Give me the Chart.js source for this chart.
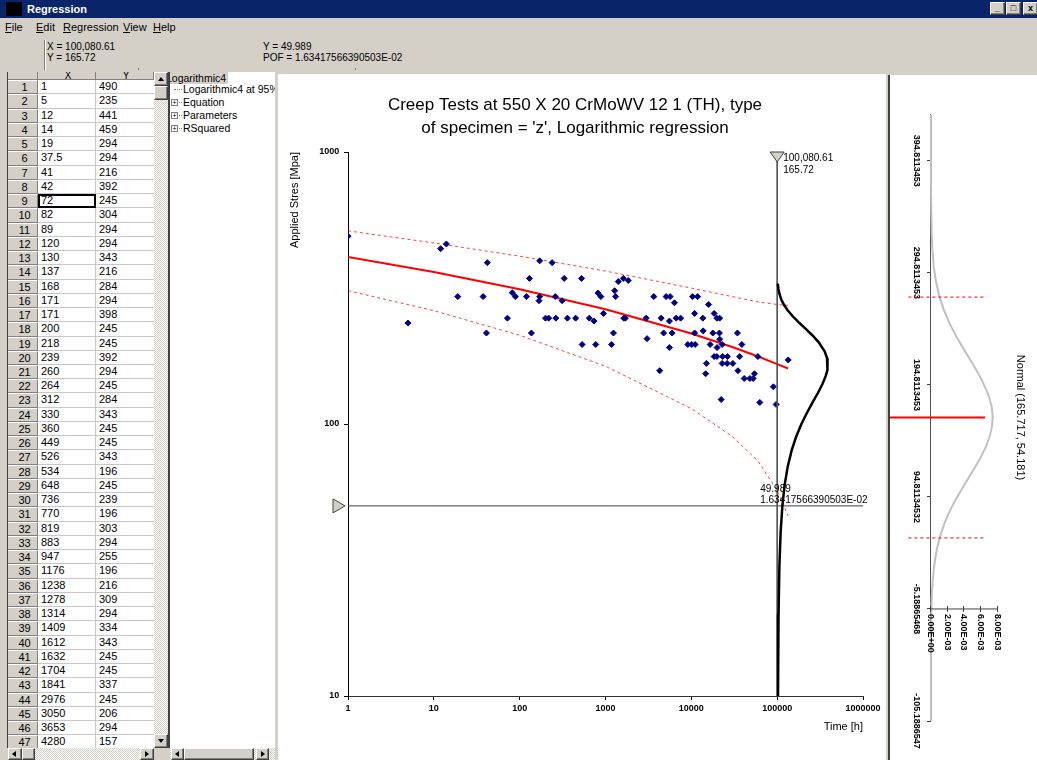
<!DOCTYPE html>
<html>
<head>
<meta charset="utf-8">
<title>Regression</title>
<script src="https://cdn.jsdelivr.net/npm/chart.js@4.4.1/dist/chart.umd.min.js"></script>
<style>
  * { box-sizing: border-box; }
  body {
    margin: 0; width: 1037px; height: 760px; overflow: hidden; position: relative;
    background: #d4d0c8; color: #000;
    font-family: Arial, "Liberation Sans", sans-serif; font-size: 11px;
  }
  .abs { position: absolute; }
  .raised { background: #d4d0c8; border: 1px solid; border-color: #fff #404040 #404040 #fff; box-shadow: inset -1px -1px #808080; }
  .track { background: repeating-conic-gradient(#fff 0 25%, #d4d0c8 0 50%) 0 0 / 2px 2px; }
  .tri { position: absolute; width: 0; height: 0; border: 3px solid transparent; }
  .tri.up { border-top: 0; border-bottom: 4px solid #000; left: 3px; top: 4px; }
  .tri.down { border-bottom: 0; border-top: 4px solid #000; left: 3px; top: 4px; }
  .tri.left { border-left: 0; border-right: 4px solid #000; left: 3px; top: 2px; }
  .tri.right { border-right: 0; border-left: 4px solid #000; left: 4px; top: 2px; }

  #titlebar { left: 0; top: 0; width: 1037px; height: 18px; background: #0a246a; color: #fff; font-weight: bold; line-height: 18px; }
  #titlebar .icon { left: 6px; top: 2px; width: 16px; height: 14px; background: #000; }
  .winbtn { top: 2px; width: 15px; height: 13px; font-size: 9px; line-height: 10px; text-align: center; color: #000; font-weight: bold; }
  #menu { left: 0; top: 18px; width: 1037px; height: 18px; line-height: 19px; }
  #menu span { position: absolute; top: 0; }
  .readout { font-size: 10px; line-height: 11px; white-space: nowrap; }

  #grid { left: 7px; top: 72px; width: 161px; height: 676px; background: #fff; overflow: hidden; border-left: 1px solid #404040; }
  .cell { position: absolute; height: 14.24px; line-height: 13px; padding-left: 3px; white-space: nowrap; overflow: hidden; }
  .rh { left: 0; width: 30px; background: #d4d0c8; border-right: 1px solid #808080; border-bottom: 1px solid #808080; border-top: 1px solid #fff; text-align: center; padding-left: 4px; }
  .cx { left: 30px; width: 58px; border-right: 1px solid #c8c8c8; border-bottom: 1px solid #c8c8c8; }
  .cy { left: 88px; width: 58px; border-bottom: 1px solid #c8c8c8; }
  .hdr { top: 0; height: 8px; line-height: 8px; font-size: 10px; background: #d4d0c8; border-right: 1px solid #808080; border-bottom: 1px solid #808080; text-align: center; overflow: hidden; }

  #tree { left: 168px; top: 72px; width: 107px; height: 676px; background: #fff; border-left: 2px solid #404040; overflow: hidden; font-size: 10.5px; }
  #tree div { position: absolute; white-space: nowrap; line-height: 12px; }
  .dots { position: absolute; border-top: 1px dotted #808080; height: 0; }
  .plus { position: absolute; width: 7px; height: 7px; border: 1px solid #808080; font-size: 7px; line-height: 5px; text-align: center; }

  #mainPanel { left: 278px; top: 74px; width: 608px; height: 686px; background: #fff; }
  #distPanel { left: 888px; top: 75px; width: 149px; height: 685px; background: #fff; border-left: 2px solid #404040; }
  #distWrap { position: absolute; left: 147px; top: 0; width: 685px; height: 147px; transform-origin: 0 0; transform: rotate(90deg); }
</style>
</head>
<body>

<div id="titlebar" class="abs">
  <div class="abs icon"></div>
  <div class="abs" style="left:27px;">Regression</div>
  <div class="abs raised winbtn" style="left:990px;">_</div>
  <div class="abs raised winbtn" style="left:1006px;">&#9633;</div>
  <div class="abs raised winbtn" style="left:1023px;">x</div>
</div>

<div id="menu" class="abs">
  <span style="left:5px;"><u>F</u>ile</span>
  <span style="left:36px;"><u>E</u>dit</span>
  <span style="left:63px;"><u>R</u>egression</span>
  <span style="left:123px;"><u>V</u>iew</span>
  <span style="left:153px;"><u>H</u>elp</span>
</div>

<div class="abs" style="left:44px; top:40px; width:2px; height:30px; border-left:1px solid #808080; border-right:1px solid #fff;"></div>
<div class="abs readout" style="left:47px; top:41px;" id="readX"></div>
<div class="abs readout" style="left:47px; top:52px;" id="readY"></div>
<div class="abs readout" style="left:263px; top:41px;" id="readPofY"></div>
<div class="abs readout" style="left:263px; top:52px;" id="readPof"></div>
<div class="abs" style="left:138px; top:68px; width:1px; height:2px; background:#808080;"></div>
<div class="abs" style="left:355px; top:68px; width:1px; height:2px; background:#808080;"></div>

<div id="grid" class="abs"></div>
<div class="abs track" style="left:154px; top:72px; width:14px; height:676px;"></div>
<div class="abs raised" style="left:154px; top:72px; width:14px; height:14px;"><div class="tri up"></div></div>
<div class="abs raised" style="left:154px; top:86px; width:14px; height:14px;"></div>
<div class="abs raised" style="left:154px; top:734px; width:14px; height:14px;"><div class="tri down"></div></div>
<div class="abs track" style="left:8px; top:748px; width:146px; height:12px;"></div>
<div class="abs raised" style="left:8px; top:748px; width:14px; height:12px;"><div class="tri left"></div></div>
<div class="abs raised" style="left:22px; top:748px; width:13px; height:12px;"></div>
<div class="abs raised" style="left:140px; top:748px; width:14px; height:12px;"><div class="tri right"></div></div>

<div id="tree" class="abs"></div>
<div class="abs track" style="left:170px; top:748px; width:105px; height:12px;"></div>
<div class="abs raised" style="left:171px; top:748px; width:13px; height:12px;"><div class="tri left"></div></div>
<div class="abs raised" style="left:184px; top:748px; width:70px; height:12px;"></div>
<div class="abs raised" style="left:256px; top:748px; width:13px; height:12px;"><div class="tri right"></div></div>

<div id="mainPanel" class="abs"><canvas id="creepChart" width="608" height="686"></canvas></div>
<div id="distPanel" class="abs"><div id="distWrap"><canvas id="distChart" width="685" height="147"></canvas></div></div>

<script>
// creep rupture tests: time to rupture [h] and applied stress [MPa]
const creepTime = [
  1, 5, 12, 14, 19, 37.5, 41, 42, 72, 82, 89, 120, 130, 137, 168, 171, 171, 200, 218, 239,
  260, 264, 312, 330, 360, 449, 526, 534, 648, 736, 770, 819, 883, 947, 1176, 1238, 1278, 1314,
  1409, 1612, 1632, 1704, 1841, 2976, 3050, 3653, 4280,
  4450, 4755, 5085, 5555, 5555, 5660, 5970, 6360, 6650, 7500, 9100, 10080, 10350, 10920, 10920,
  11070, 11840, 13620, 13730, 14680, 14960, 15900, 16560, 17800, 18440, 18440, 19830, 19830,
  19950, 21250, 21370, 21370, 22250, 22850, 22850, 23170, 26100, 26350, 30460, 34440, 34900,
  36560, 38800, 41250, 48070, 52500, 54380, 59600, 62800, 90300, 97300, 134400
];
const creepStress = [
  490, 235, 441, 459, 294, 294, 216, 392, 245, 304, 294, 294, 343, 216, 284, 294, 398, 245, 245, 392,
  294, 245, 284, 343, 245, 245, 343, 196, 245, 239, 196, 303, 294, 255, 196, 216, 309, 294,
  334, 343, 245, 245, 337, 245, 206, 294, 157,
  245, 216, 294, 239, 191, 294, 216, 279, 245, 245, 196, 196, 294, 255, 216,
  196, 294, 245, 220, 153, 167, 275, 196, 216, 255, 177, 245, 177,
  191, 216, 245, 205, 123, 196, 167, 177, 167, 177, 167, 216, 157,
  177, 196, 147, 147, 147, 153, 177, 120, 137, 118, 172
];

// logarithmic regression and its 95% prediction band
const bandTime = [1, 10, 100, 1000, 10000, 30000, 60000, 100000, 134000];
const fitStress = [411, 362, 313, 264, 215, 192, 177, 166, 160];
const upperStress = [513, 463, 414, 365, 316, 294, 281, 275, 273];
const lowerStress = [309, 261, 212, 163, 114, 90, 73, 57, 46];

// cursor readouts
const cursorTime = 100080.61;
const cursorStress = 165.72;
const pofStress = 49.989;
const pofValue = 1.63417566390503E-02;

// stress distribution at the cursor time
const normalMean = 165.717;
const normalSd = 54.181;
const pdfStress = [
  436, 400, 375, 350, 328, 315, 300, 287, 275, 262, 250, 237, 225, 212, 200, 185, 175, 166, 158, 150,
  140, 130, 120, 110, 100, 90, 80, 70, 60, 50, 40, 30, 20, 10, 0, -10, -40, -70, -105
];
const pdfDensity = [
  0, 0.0000006, 0.0000042, 0.0000227, 0.000083, 0.000165, 0.000342, 0.000602, 0.000963, 0.001518,
  0.002196, 0.003099, 0.004046, 0.005113, 0.006027, 0.006911, 0.007256, 0.007363, 0.007289, 0.007060,
  0.006578, 0.005925, 0.005158, 0.004340, 0.003528, 0.002773, 0.002107, 0.001546, 0.001097, 0.000753,
  0.000499, 0.000320, 0.000198, 0.000118, 0.0000685, 0.0000383, 0.0000054, 0.0000006, 0
];
const boundStress = [58.2, 273.2];
const refLineTop = 0.00645;
const meanLineBottom = -0.0049;
const boundLineBottom = -0.0027;

// tick values
const timeTicks = [1, 10, 100, 1000, 10000, 100000, 1000000];
const stressTicks = [10, 100, 1000];
const distStressTicks = [-105.1886547, -5.18865468, 94.81134532, 194.8113453, 294.8113453, 394.8113453];
const densityTicks = [0, 0.002, 0.004, 0.006, 0.008];

const chartTitle = ["Creep Tests at 550 X 20 CrMoWV 12 1 (TH), type", "of specimen = 'z', Logarithmic regression"];

const fontFamily = 'Arial, "Liberation Sans", sans-serif';
Chart.defaults.font.family = fontFamily;
Chart.defaults.color = '#000';

function fmtExp(v, digits) {
  const [m, e] = v.toExponential(digits).split('e');
  const n = Number(e);
  return m + 'E' + (n < 0 ? '-' : '+') + String(Math.abs(n)).padStart(2, '0');
}

const cursorTimeText = cursorTime.toLocaleString('en-US', { minimumFractionDigits: 2, maximumFractionDigits: 2 });

document.getElementById('readX').textContent = 'X = ' + cursorTimeText;
document.getElementById('readY').textContent = 'Y = ' + cursorStress;
document.getElementById('readPofY').textContent = 'Y = ' + pofStress;
document.getElementById('readPof').textContent = 'POF = ' + fmtExp(pofValue, 14);

function buildGrid() {
  const rowH = 14.24;
  let html = '<div class="cell hdr" style="left:0;width:30px;"></div>' +
             '<div class="cell hdr" style="left:30px;width:58px;">X</div>' +
             '<div class="cell hdr" style="left:88px;width:58px;">Y</div>';
  for (let i = 0; i < 47; i++) {
    const top = (8.2 + i * rowH).toFixed(2);
    const focus = i === 8 ? 'outline:2px solid #000;outline-offset:-2px;' : '';
    html += `<div class="cell rh" style="top:${top}px">${i + 1}</div>` +
            `<div class="cell cx" style="top:${top}px;${focus}">${creepTime[i]}</div>` +
            `<div class="cell cy" style="top:${top}px">${creepStress[i]}</div>`;
  }
  document.getElementById('grid').innerHTML = html;
}

function buildTree() {
  document.getElementById('tree').innerHTML =
    '<div style="left:-6px;top:0px;background:#d4d0c8;padding:0 2px;">Logarithmic4</div>' +
    '<span class="dots" style="left:4px;top:17px;width:8px;"></span>' +
    '<div style="left:13px;top:11px;">Logarithmic4 at 95%</div>' +
    '<span class="plus" style="left:1px;top:27px;">+</span><span class="dots" style="left:9px;top:30px;width:3px;"></span><div style="left:13px;top:24px;">Equation</div>' +
    '<span class="plus" style="left:1px;top:40px;">+</span><span class="dots" style="left:9px;top:43px;width:3px;"></span><div style="left:13px;top:37px;">Parameters</div>' +
    '<span class="plus" style="left:1px;top:53px;">+</span><span class="dots" style="left:9px;top:56px;width:3px;"></span><div style="left:13px;top:50px;">RSquared</div>';
}

buildGrid();
buildTree();

// handles and readouts of the two cursors
const cursorMarks = {
  id: 'cursorMarks',
  afterDatasetsDraw(chart) {
    const { ctx, chartArea, scales: { x, y } } = chart;
    const cx = x.getPixelForValue(cursorTime);
    const py = y.getPixelForValue(pofStress);
    ctx.save();
    ctx.fillStyle = '#d4d0c8';
    ctx.strokeStyle = '#404040';
    ctx.lineWidth = 1;
    ctx.beginPath();
    ctx.moveTo(cx - 7, chartArea.top);
    ctx.lineTo(cx + 7, chartArea.top);
    ctx.lineTo(cx, chartArea.top + 10);
    ctx.closePath();
    ctx.fill();
    ctx.stroke();
    ctx.beginPath();
    ctx.moveTo(chartArea.left - 15, py - 7);
    ctx.lineTo(chartArea.left - 15, py + 7);
    ctx.lineTo(chartArea.left - 3, py);
    ctx.closePath();
    ctx.fill();
    ctx.stroke();

    ctx.fillStyle = '#000';
    ctx.font = '10px ' + fontFamily;
    ctx.textBaseline = 'middle';
    ctx.textAlign = 'left';
    ctx.fillText(cursorTimeText, cx + 6, chartArea.top + 6);
    ctx.fillText(String(cursorStress), cx + 6, chartArea.top + 18);
    ctx.fillText(String(pofStress), cx - 17, py - 17);
    ctx.fillText(fmtExp(pofValue, 14), cx - 17, py - 6);
    ctx.restore();
  }
};

// density tick marks and labels, standing on the -5.19 stress line
const densityAxis = {
  id: 'densityAxis',
  afterDatasetsDraw(chart) {
    const { ctx, scales: { x, y } } = chart;
    const ax = x.getPixelForValue(distStressTicks[1]);
    ctx.save();
    ctx.strokeStyle = '#404040';
    ctx.lineWidth = 1;
    ctx.fillStyle = '#000';
    ctx.font = 'bold 9px ' + fontFamily;
    ctx.textAlign = 'left';
    ctx.textBaseline = 'middle';
    densityTicks.forEach(v => {
      const py = Math.round(y.getPixelForValue(v)) + 0.5;
      ctx.beginPath();
      ctx.moveTo(ax - 3, py);
      ctx.lineTo(ax + 3, py);
      ctx.stroke();
      ctx.fillText(fmtExp(v, 2), ax + 5, py);
    });
    ctx.restore();
  }
};

const toPoints = (xs, ys) => xs.map((v, i) => ({ x: v, y: ys[i] }));
const lineSet = (label, data, color, width, extra) =>
  Object.assign({ label, data, showLine: true, borderColor: color, borderWidth: width, pointRadius: 0, fill: false }, extra);

// density axis placed so that zero sits on the cursor time
const pdfAxisMax = 0.0125;
const cursorFrac = Math.log10(cursorTime) / Math.log10(timeTicks[timeTicks.length - 1]);
const pdfAxisMin = -cursorFrac * pdfAxisMax / (1 - cursorFrac);

const mainPdf = pdfStress.map((s, i) => ({ x: pdfDensity[i], y: s })).filter(p => p.y >= 10 && p.y <= 330);

const tickFont = { size: 9, weight: 'bold' };

new Chart(document.getElementById('creepChart'), {
  type: 'scatter',
  data: {
    datasets: [
      lineSet('stress distribution', mainPdf, '#000', 2.5, { xAxisID: 'xPdf' }),
      lineSet('cursor time', [{ x: cursorTime, y: stressTicks[2] }, { x: cursorTime, y: stressTicks[0] }], '#555', 1),
      {
        label: 'creep tests', data: toPoints(creepTime, creepStress),
        pointStyle: 'rectRot', pointRadius: 3, backgroundColor: '#000080', borderColor: '#000080', borderWidth: 1
      },
      lineSet('Logarithmic4', toPoints(bandTime, fitStress), '#ff0000', 2),
      lineSet('upper 95%', toPoints(bandTime, upperStress), 'rgba(255,0,0,0.75)', 1, { borderDash: [3, 3] }),
      lineSet('lower 95%', toPoints(bandTime, lowerStress), 'rgba(255,0,0,0.75)', 1, { borderDash: [3, 3] }),
      lineSet('pof stress', [{ x: timeTicks[0], y: pofStress }, { x: timeTicks[6], y: pofStress }], '#404040', 1)
    ]
  },
  options: {
    responsive: false,
    animation: false,
    events: [],
    layout: { padding: { left: 9, right: 23, top: 0, bottom: 0 } },
    plugins: {
      legend: { display: false },
      tooltip: { enabled: false },
      title: {
        display: true, text: chartTitle, color: '#000',
        font: { size: 17, weight: 'normal', lineHeight: 1.35 },
        padding: { top: 20, bottom: 12.1 }
      }
    },
    scales: {
      x: {
        type: 'logarithmic', min: timeTicks[0], max: timeTicks[6],
        afterBuildTicks: s => { s.ticks = timeTicks.map(value => ({ value })); },
        afterFit: s => { s.height = 64; },
        ticks: { callback: v => String(v), font: tickFont, color: '#000', padding: 3.6, autoSkip: false, maxRotation: 0 },
        grid: { drawOnChartArea: false, tickLength: 4, color: '#000' },
        border: { color: '#333' },
        title: { display: true, text: 'Time [h]', align: 'end', color: '#000', font: { size: 11 }, padding: { top: 0, bottom: 26.4 } }
      },
      xPdf: { type: 'linear', axis: 'x', display: false, min: pdfAxisMin, max: pdfAxisMax },
      y: {
        type: 'logarithmic', min: stressTicks[0], max: stressTicks[2],
        afterBuildTicks: s => { s.ticks = stressTicks.map(value => ({ value })); },
        afterFit: s => { s.width = 61; },
        ticks: { callback: v => String(v), font: tickFont, color: '#000', padding: 4.7 },
        grid: { drawOnChartArea: false, tickLength: 4, color: '#000' },
        border: { color: '#000' },
        title: { display: true, text: 'Applied Stres [Mpa]', align: 'end', color: '#000', font: { size: 11 }, padding: { top: 1.4, bottom: 0 } }
      }
    }
  },
  plugins: [cursorMarks]
});

// distribution panel, drawn unrotated and turned by CSS; stress runs high to low
new Chart(document.getElementById('distChart'), {
  type: 'scatter',
  data: {
    datasets: [
      lineSet('mean', [{ x: normalMean, y: meanLineBottom }, { x: normalMean, y: refLineTop }], '#ff0000', 2, { clip: false }),
      lineSet('lower bound', [{ x: boundStress[0], y: boundLineBottom }, { x: boundStress[0], y: refLineTop }], '#ff0000', 1, { borderDash: [3, 3], clip: false }),
      lineSet('upper bound', [{ x: boundStress[1], y: boundLineBottom }, { x: boundStress[1], y: refLineTop }], '#ff0000', 1, { borderDash: [3, 3], clip: false }),
      lineSet('density axis', [{ x: distStressTicks[1], y: densityTicks[0] }, { x: distStressTicks[1], y: densityTicks[4] }], '#404040', 1, { clip: false }),
      lineSet('Normal', toPoints(pdfStress, pdfDensity), '#c0c0c0', 2, { clip: false })
    ]
  },
  options: {
    responsive: false,
    animation: false,
    events: [],
    layout: { padding: { left: 39, right: 39, top: 0, bottom: 0 } },
    plugins: {
      legend: { display: false },
      tooltip: { enabled: false },
      title: {
        display: true, text: `Normal (${normalMean}, ${normalSd})`, color: '#000',
        font: { size: 11, weight: 'normal', lineHeight: 1.2 },
        padding: { top: 10.4, bottom: 6.4 }
      }
    },
    scales: {
      x: {
        type: 'linear', reverse: true,
        min: distStressTicks[0], max: normalMean + 5 * normalSd,
        // listed from the left edge of the reversed axis
        afterBuildTicks: s => { s.ticks = distStressTicks.slice().reverse().map(value => ({ value })); },
        afterFit: s => { s.height = 41; },
        ticks: { callback: v => String(v), font: tickFont, color: '#000', padding: 5, autoSkip: false, maxRotation: 0 },
        grid: { drawOnChartArea: false, tickLength: 4, color: '#404040' },
        border: { color: '#505050' }
      },
      y: { type: 'linear', display: false, min: 0, max: 0.009075 }
    }
  },
  plugins: [densityAxis]
});
</script>
</body>
</html>
